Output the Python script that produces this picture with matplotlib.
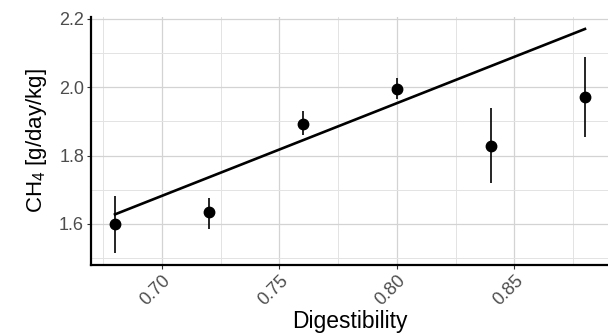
import matplotlib
matplotlib.use("Agg")
import matplotlib.pyplot as plt
from matplotlib.ticker import MultipleLocator

plt.rcParams['font.family'] = ['Liberation Sans', 'DejaVu Sans']
plt.rcParams['mathtext.fontset'] = 'custom'
plt.rcParams['mathtext.rm'] = 'Liberation Sans'
plt.rcParams['mathtext.it'] = 'Liberation Sans'

# data
digestibility = [0.68, 0.72, 0.76, 0.80, 0.84, 0.88]
ch4 = [1.600, 1.634, 1.893, 1.995, 1.829, 1.972]
ch4_low = [1.515, 1.586, 1.861, 1.964, 1.720, 1.855]
ch4_high = [1.682, 1.676, 1.929, 2.028, 1.940, 2.089]
fit_x = [0.68, 0.88]
fit_y = [1.628, 2.170]
xticks = [0.70, 0.75, 0.80, 0.85]
yticks = [1.6, 1.8, 2.0, 2.2]

fig = plt.figure(figsize=(6.08, 3.36), dpi=100)
ax = fig.add_axes([91/608, 71/336, 517/608, 248/336])

err_lo = [c - l for c, l in zip(ch4, ch4_low)]
err_hi = [h - c for c, h in zip(ch4, ch4_high)]
ax.errorbar(digestibility, ch4, yerr=[err_lo, err_hi], fmt='none',
            ecolor='black', elinewidth=1.2, capsize=0, zorder=3)
ax.plot(digestibility, ch4, 'o', color='black', markersize=7.5, zorder=4)
ax.plot(fit_x, fit_y, color='black', linewidth=1.9, zorder=3)

ax.set_xlim(0.6698, 0.8898)
ax.set_ylim(1.48, 2.205)
ax.set_xticks(xticks)
ax.set_xticklabels([f"{t:.2f}" for t in xticks], rotation=45,
                   ha='right', va='top', rotation_mode='anchor')
ax.set_yticks(yticks)
ax.set_yticklabels([f"{t:.1f}" for t in yticks])
ax.xaxis.set_minor_locator(MultipleLocator(0.025))
ax.yaxis.set_minor_locator(MultipleLocator(0.1))

ax.grid(which='major', color='#d3d3d3', linewidth=0.9)
ax.grid(which='minor', color='#e3e3e3', linewidth=0.7)
ax.set_axisbelow(True)
ax.tick_params(which='major', length=3, width=0.8, color='#333333',
               labelcolor='#4d4d4d', labelsize=13, pad=2)
ax.tick_params(which='minor', length=0)

for side in ['top', 'right']:
    ax.spines[side].set_visible(False)
for side in ['left', 'bottom']:
    ax.spines[side].set_linewidth(1.6)
    ax.spines[side].set_color('black')

ax.set_xlabel('Digestibility', fontsize=16.5, labelpad=1)
ax.set_ylabel(r'CH$_4$ [g/day/kg]', fontsize=16, labelpad=7)

fig.savefig('out.png', dpi=100)
